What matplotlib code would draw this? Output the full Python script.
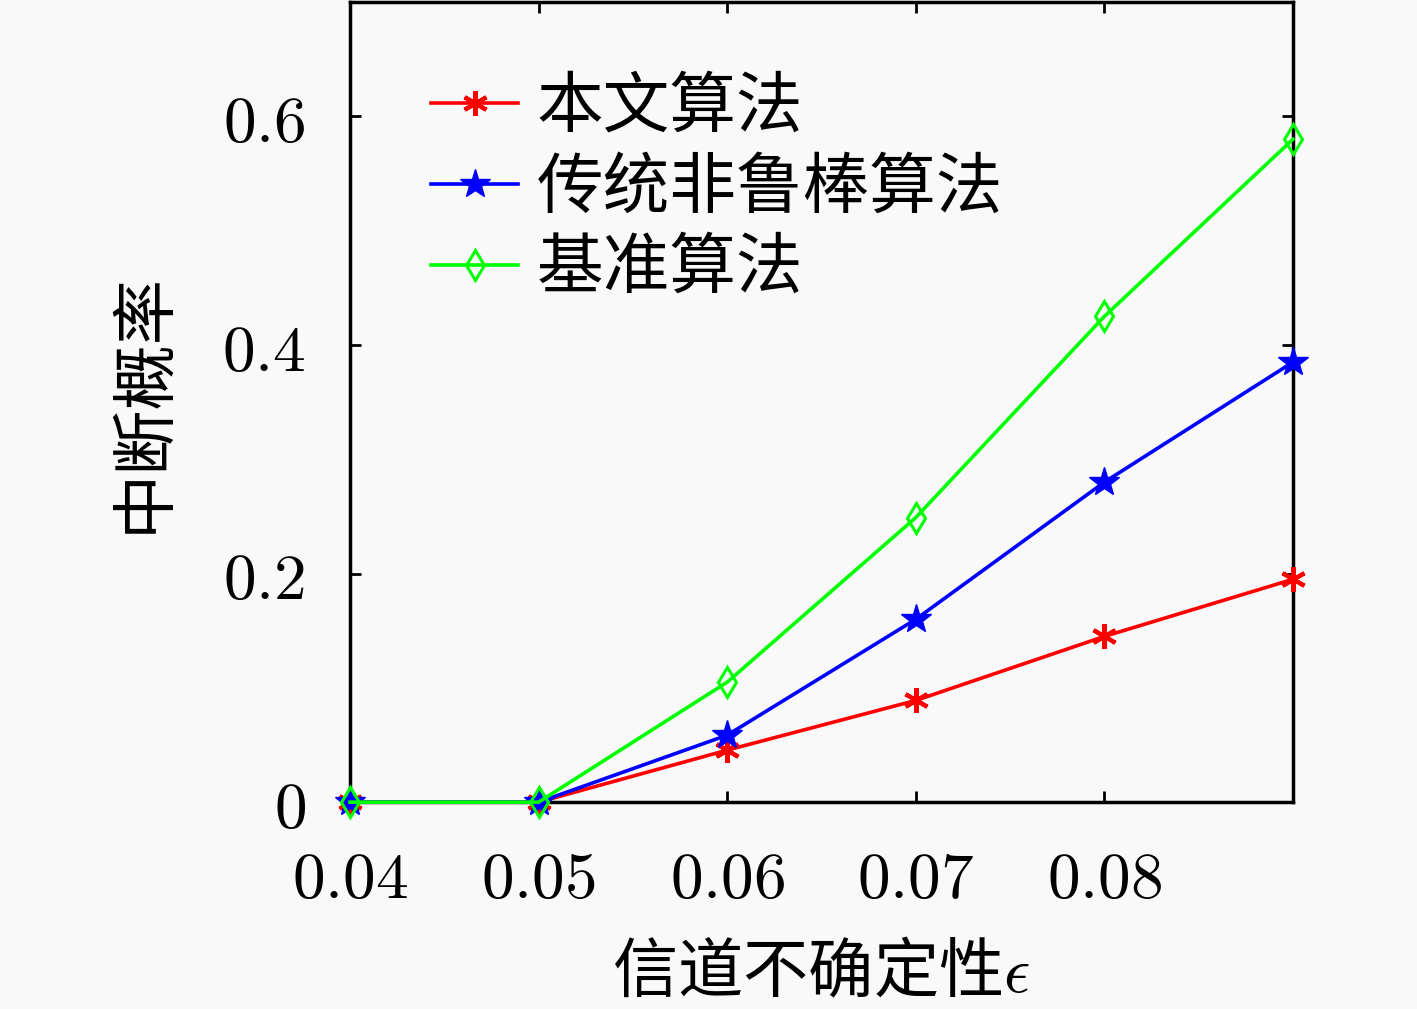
import matplotlib
matplotlib.use("Agg")
import matplotlib.pyplot as plt
from matplotlib.ticker import FixedLocator, FixedFormatter

plt.rcParams['font.family'] = ['Noto Sans CJK SC', 'DejaVu Sans']
plt.rcParams['mathtext.fontset'] = 'cm'

eps = [0.04, 0.05, 0.06, 0.07, 0.08, 0.09]
proposed = [0.0, 0.0, 0.0455, 0.089, 0.145, 0.195]
nonrobust = [0.0, 0.0, 0.0586, 0.160, 0.280, 0.385]
baseline = [0.0, 0.0, 0.105, 0.249, 0.425, 0.580]
labels = ['本文算法', '传统非鲁棒算法', '基准算法']
xticks = [0.04, 0.05, 0.06, 0.07, 0.08]
xticklabels = ['$0.04$', '$0.05$', '$0.06$', '$0.07$', '$0.08$']
yticks = [0, 0.2, 0.4, 0.6]
yticklabels = ['$0$', '$0.2$', '$0.4$', '$0.6$']

bg = '#f9f9f9'
fig = plt.figure(figsize=(14.17, 10.09), dpi=100, facecolor=bg)
ax = fig.add_axes([0.247, 0.205, 0.6655, 0.793])
ax.set_facecolor(bg)

ax.plot(eps, proposed, color='#ff0000', lw=2.6, marker=(6, 2, 0), ms=18, mew=3,
        label=labels[0], zorder=3, clip_on=False)
ax.plot(eps, nonrobust, color='#0000ff', lw=2.6, marker='*', ms=22,
        label=labels[1], zorder=4, clip_on=False)
ax.plot(eps, baseline, color='#00ff00', lw=2.6, marker='d', ms=15, mew=2.2,
        fillstyle='none', label=labels[2], zorder=5, clip_on=False)

ax.set_xlim(0.04, 0.09)
ax.set_ylim(0, 0.7)
ax.xaxis.set_major_locator(FixedLocator(xticks))
ax.xaxis.set_major_formatter(FixedFormatter(xticklabels))
ax.yaxis.set_major_locator(FixedLocator(yticks))
ax.yaxis.set_major_formatter(FixedFormatter(yticklabels))
ax.tick_params(direction='in', length=8, width=2, labelsize=47, pad=32,
               top=True, right=True)
for s in ax.spines.values():
    s.set_linewidth(2.5)

ax.set_xlabel('信道不确定性$\\epsilon$', fontsize=47, labelpad=20)
ax.set_ylabel('中断概率', fontsize=47, labelpad=32)

leg = ax.legend(loc='upper left', bbox_to_anchor=(0.044, 0.96), frameon=False,
                fontsize=48, handlelength=1.3, handletextpad=0.28,
                labelspacing=0.2, borderaxespad=0.2)

fig.savefig('out.png', dpi=100, facecolor=bg)
